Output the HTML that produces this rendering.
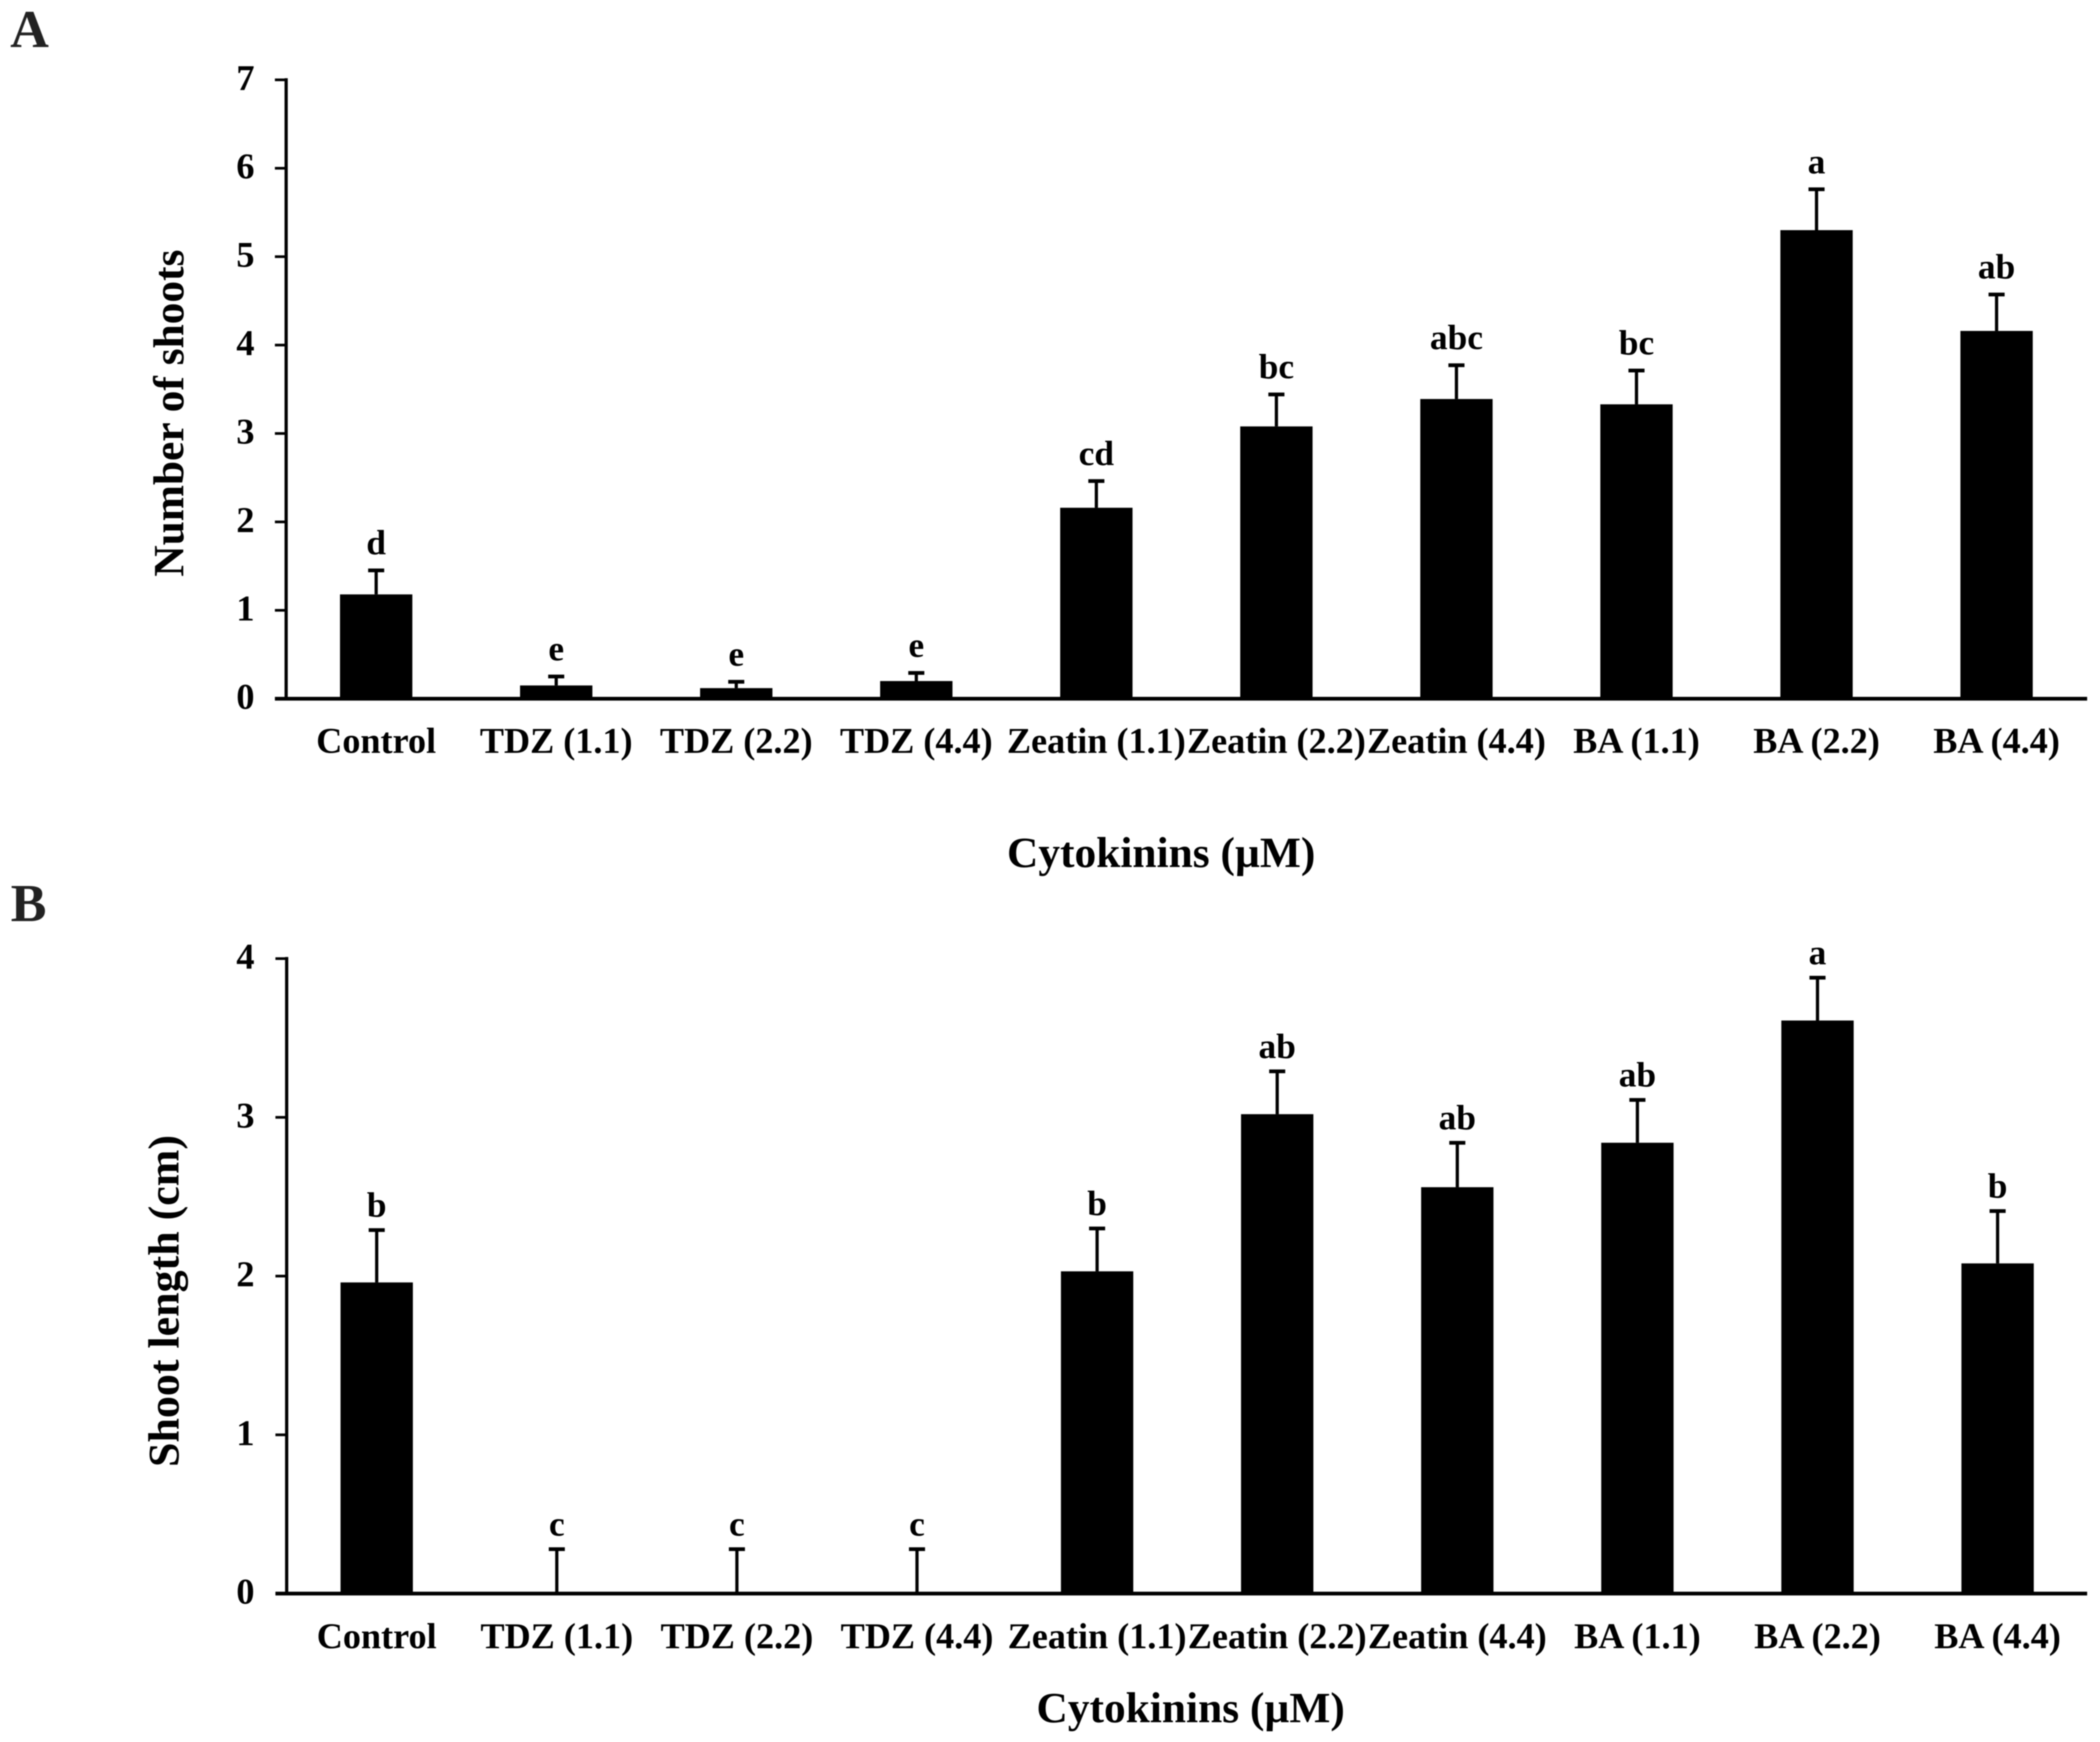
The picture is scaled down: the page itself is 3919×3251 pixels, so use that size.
<!DOCTYPE html>
<html lang="en">
<head>
<meta charset="utf-8">
<title>Shoots and shoot length by cytokinin treatment</title>
<style>
html,body{margin:0;padding:0;background:#fff}
svg{display:block;filter:blur(1px)}
text{font-family:"Liberation Serif",serif;font-weight:bold;fill:#000}
</style>
</head>
<body>
<svg id="figure" xmlns="http://www.w3.org/2000/svg" width="3919" height="3251" viewBox="0 0 3919 3251">
<rect width="3919" height="3251" fill="#fff"/>
<text x="19" y="88" font-size="100" style="fill:#222">A</text>
<text x="20" y="1719" font-size="100" style="fill:#222">B</text>
<g id="panelA"></g>
<g id="panelB"></g>
<text x="2167" y="1618" font-size="81" text-anchor="middle">Cytokinins (µM)</text>
<text x="2222" y="3214" font-size="81" text-anchor="middle">Cytokinins (µM)</text>
<text transform="translate(342 771) rotate(-90)" font-size="81" text-anchor="middle">Number of shoots</text>
<text transform="translate(333 2428) rotate(-90)" font-size="82" text-anchor="middle">Shoot length (cm)</text>
</svg>
<script>
const categories = ["Control","TDZ (1.1)","TDZ (2.2)","TDZ (4.4)","Zeatin (1.1)","Zeatin (2.2)","Zeatin (4.4)","BA (1.1)","BA (2.2)","BA (4.4)"];
const shootCounts = [1.18,0.15,0.12,0.20,2.16,3.08,3.39,3.33,5.30,4.16];
const shootCountErrors = [0.29,0.12,0.09,0.11,0.32,0.38,0.40,0.40,0.48,0.43];
const shootCountLetters = ["d","e","e","e","cd","bc","abc","bc","a","ab"];
const shootCountTicks = [0,1,2,3,4,5,6,7];
const shootLengths = [1.96,0,0,0,2.03,3.02,2.56,2.84,3.61,2.08];
const shootLengthErrors = [0.34,0.29,0.29,0.29,0.28,0.28,0.29,0.28,0.28,0.34];
const shootLengthLetters = ["b","c","c","c","b","ab","ab","ab","a","b"];
const shootLengthTicks = [0,1,2,3,4];

const NS = "http://www.w3.org/2000/svg";
function make(parent, tag, attrs, content) {
  const el = document.createElementNS(NS, tag);
  for (const key in attrs) el.setAttribute(key, attrs[key]);
  if (content !== undefined) el.textContent = content;
  parent.appendChild(el);
  return el;
}

function drawPanel(group, axisX, zeroY, topY, ticks, values, errors, letters, labelBaseline, firstX, stepX, letterGap) {
  const maxTick = ticks[ticks.length - 1];
  const yScale = v => zeroY - (v / maxTick) * (zeroY - topY);
  const xScale = i => firstX + i * stepX;
  const barWidth = 135;

  values.forEach((v, i) => {
    const cx = xScale(i);
    const top = yScale(v + errors[i]);
    if (v > 0) {
      const bar = make(group, "rect", {x: cx - barWidth / 2, y: yScale(v), width: barWidth, height: zeroY - yScale(v), fill: "#000"});
      
      
    }
    const stem = make(group, "line", {x1: cx, x2: cx, y1: yScale(v), y2: top, stroke: "#000", "stroke-width": 6});
    
    
    const cap = make(group, "line", {x1: cx - 15, x2: cx + 15, y1: top + 3, y2: top + 3, stroke: "#000", "stroke-width": 7});
    
    
    const letter = make(group, "text", {x: cx, y: top - letterGap, "font-size": 66, "text-anchor": "middle"}, letters[i]);
    
    
    const label = make(group, "text", {x: cx, y: labelBaseline, "font-size": 67.5, "text-anchor": "middle"}, categories[i]);
    
    
  });

  ticks.forEach(t => {
    const y = yScale(t);
    const mark = make(group, "line", {x1: axisX - 21, x2: axisX, y1: y, y2: y, stroke: "#000", "stroke-width": 5});
    
    
    const tickLabel = make(group, "text", {x: 458, y: y + 19, "font-size": 68, "text-anchor": "middle"}, String(t));
    
    
  });

  const yAxis = make(group, "line", {x1: axisX, x2: axisX, y1: topY - 3, y2: zeroY, stroke: "#000", "stroke-width": 6});
  
  
  const xAxis = make(group, "line", {x1: axisX - 21, x2: 3895, y1: zeroY, y2: zeroY, stroke: "#000", "stroke-width": 7});
  
  
}

drawPanel(document.getElementById("panelA"), 534, 1304, 149, shootCountTicks, shootCounts, shootCountErrors, shootCountLetters, 1405, 702, 336, 27);
drawPanel(document.getElementById("panelB"), 535, 2974, 1789, shootLengthTicks, shootLengths, shootLengthErrors, shootLengthLetters, 3076, 703, 336.1, 22);
</script>
</body>
</html>
